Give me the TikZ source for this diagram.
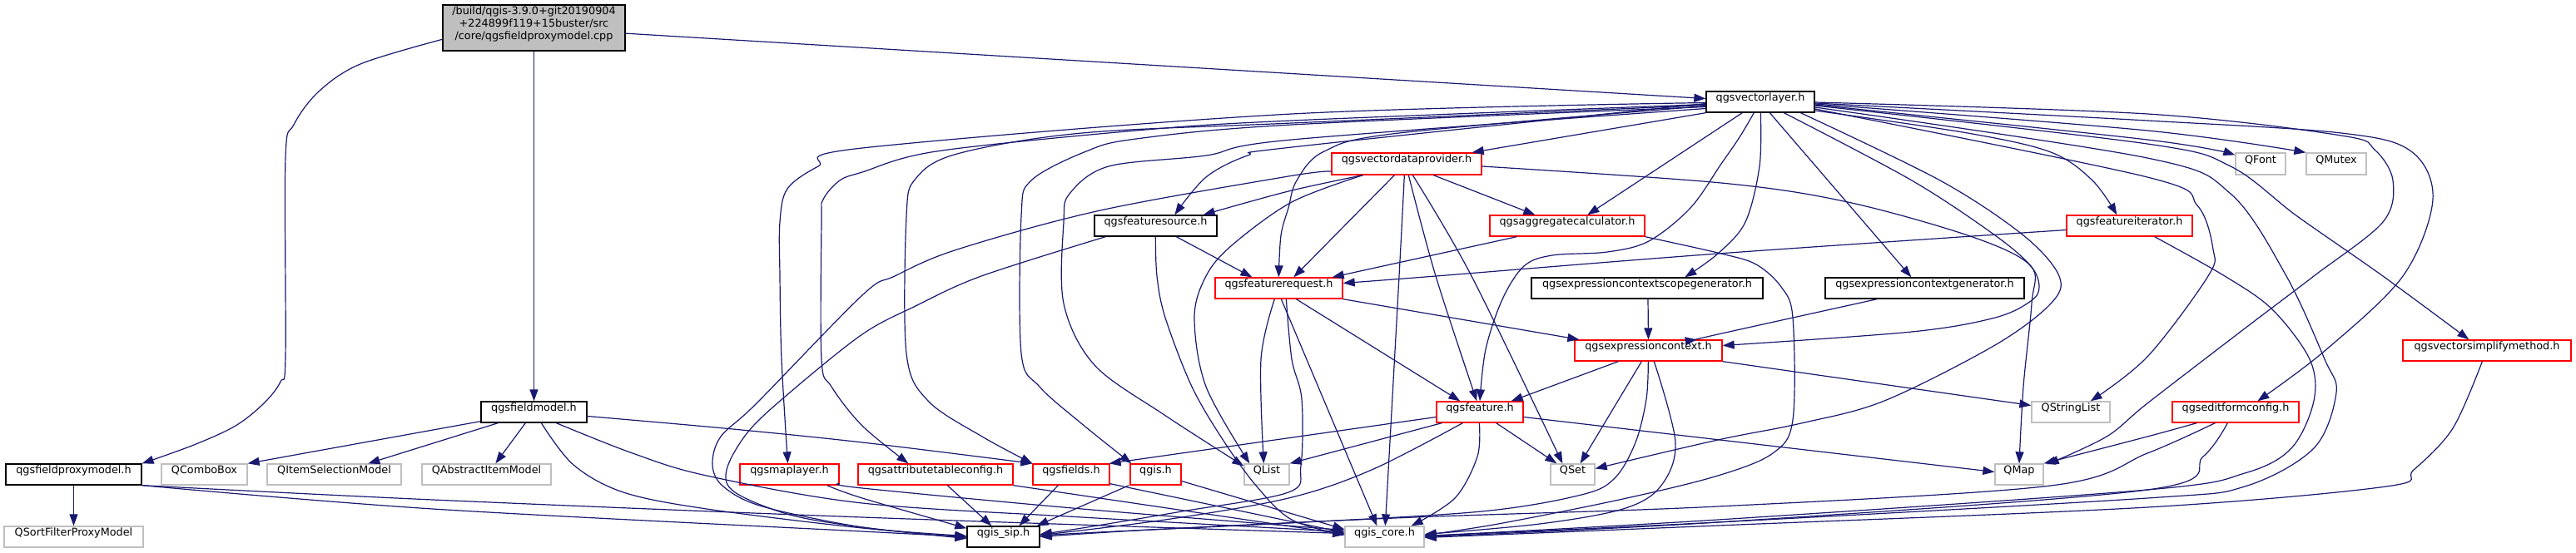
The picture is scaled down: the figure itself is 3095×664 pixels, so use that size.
\documentclass[tikz,border=0pt]{standalone}
\usepackage{fontspec}
\setmainfont{DejaVu Sans}
\usetikzlibrary{fit,calc,arrows.meta}
\definecolor{edgec}{HTML}{191970}
\definecolor{boxred}{HTML}{FF0000}
\definecolor{boxgrey}{HTML}{BFBFBF}
\begin{document}
\begin{tikzpicture}[x=0.75pt,y=-0.75pt,
  nd/.style={draw, line width=1pt, inner sep=0pt, font=\fontsize{9.6}{11.25}\selectfont, text=black},
  kbox/.style={nd, draw=black},
  rbox/.style={nd, draw=boxred},
  gbox/.style={nd, draw=boxgrey},
  e/.style={draw=edgec, line width=0.9pt, -{Triangle[length=10.5pt,width=7.5pt]}},
  sm/.style={smooth, tension=0.55}]
\useasboundingbox (0,0) rectangle (3095,664);
% nodes
\node[kbox, fill=boxgrey, align=left, fit={(532,6)(751,61)}] (root) {/build/qgis-3.9.0+git20190904\\+224899f119+15buster/src\\/core/qgsfieldproxymodel.cpp};
\node[kbox, fit={(2050,110)(2180,135)}] (vl) {qgsvectorlayer.h};
\node[kbox, fit={(7,558)(170,583)}] (fpm) {qgsfieldproxymodel.h};
\node[kbox, fit={(578,483)(705,508)}] (fm) {qgsfieldmodel.h};
\node[gbox, fit={(5,633)(172,658)}] (sfpm) {QSortFilterProxyModel};
\node[gbox, fit={(194,558)(297,583)}] (combo) {QComboBox};
\node[gbox, fit={(321,558)(482,583)}] (ism) {QItemSelectionModel};
\node[gbox, fit={(507,558)(662,583)}] (aim) {QAbstractItemModel};
\node[rbox, fit={(889,558)(1008,583)}] (ml) {qgsmaplayer.h};
\node[rbox, fit={(1031,558)(1217,583)}] (atc) {qgsattributetableconfig.h};
\node[rbox, fit={(1241,558)(1333,583)}] (fields) {qgsfields.h};
\node[rbox, fit={(1358,558)(1419,583)}] (qgis) {qgis.h};
\node[gbox, fit={(1495,558)(1549,583)}] (qlist) {QList};
\node[kbox, fit={(1162,633)(1249,658)}] (sip) {qgis\_sip.h};
\node[gbox, fit={(1616,633)(1711,658)}] (core) {qgis\_core.h};
\node[gbox, fit={(1863,558)(1916,583)}] (qset) {QSet};
\node[gbox, fit={(2397,558)(2455,583)}] (qmap) {QMap};
\node[rbox, fit={(1726,483)(1830,508)}] (feat) {qgsfeature.h};
\node[gbox, fit={(2441,483)(2535,508)}] (qsl) {QStringList};
\node[rbox, fit={(2610,483)(2762,508)}] (efc) {qgseditformconfig.h};
\node[rbox, fit={(1892,409)(2069,434)}] (ec) {qgsexpressioncontext.h};
\node[rbox, fit={(2887,409)(3089,434)}] (vsm) {qgsvectorsimplifymethod.h};
\node[rbox, fit={(1460,334)(1613,359)}] (fr) {qgsfeaturerequest.h};
\node[kbox, fit={(1840,334)(2118,359)}] (ecsg) {qgsexpressioncontextscopegenerator.h};
\node[kbox, fit={(2193,334)(2432,359)}] (ecg) {qgsexpressioncontextgenerator.h};
\node[kbox, fit={(1315,259)(1462,284)}] (fs) {qgsfeaturesource.h};
\node[rbox, fit={(1790,259)(1976,284)}] (ac) {qgsaggregatecalculator.h};
\node[rbox, fit={(2483,259)(2634,284)}] (fi) {qgsfeatureiterator.h};
\node[rbox, fit={(1600,184)(1780,210)}] (vdp) {qgsvectordataprovider.h};
\node[gbox, fit={(2686,184)(2746,210)}] (qfont) {QFont};
\node[gbox, fit={(2771,184)(2843,210)}] (qmutex) {QMutex};

% root edges
\draw[e] plot[sm] coordinates {($(root.north west)+(0,42)$) (433,77) (383,110) (353,150) (343,190) (343,429) (337,459) (317,485) (283,512) (233,535) (fpm.north east)};
\draw[e] (root) -- (fm);
\draw[e] (root) -- (vl);
% qgsfieldproxymodel.h
\draw[e] (fpm) -- (sfpm);
\draw[e] plot[sm] coordinates {(fpm.south east) (520,612) (1036,639) (sip.west)};
\draw[e] plot[sm] coordinates {(fpm.south east) (520,601) (1036,622) ($(core.west)+(0,-4)$)};
% qgsfieldmodel.h
\draw[e] ($(fm.south west)+(0,-2)$) -- (combo.north east);
\draw[e] ($(fm.south west)+(21,0)$) -- ($(ism.north west)+(122,0)$);
\draw[e] ($(fm.south west)+(54,0)$) -- ($(aim.north west)+(89,0)$);
\draw[e] plot[sm] coordinates {($(fm.east)+(0,5)$) (870,515) (1036,532) (fields.north west)};
\draw[e] plot[sm] coordinates {($(fm.south west)+(73,0)$) (689,559) (749,592) (849,612) (1036,635) ($(sip.west)+(0,-1)$)};
\draw[e] plot[sm] coordinates {($(fm.south west)+(91,0)$) (760,545) (849,572) (1036,605) (1300,622) ($(core.west)+(0,-6)$)};
% small headers to qgis_sip / qgis_core
\draw[e] plot[sm] coordinates {($(ml.south east)+(-15,0)$) (1036,599) ($(sip.north west)+(0,3)$)};
\draw[e] plot[sm] coordinates {($(ml.east)+(0,11)$) (1036,587) (1300,612) ($(core.west)+(0,-8)$)};
\draw[e] ($(atc.south west)+(108,0)$) -- ($(sip.north west)+(30,0)$);
\draw[e] (atc.south east) -- ($(core.west)+(0,-3)$);
\draw[e] ($(fields.south west)+(31,0)$) -- ($(sip.north west)+(63,0)$);
\draw[e] ($(fields.south east)+(0,-2)$) -- ($(core.west)+(0,-5)$);
\draw[e] ($(qgis.south west)+(-1,0)$) -- ($(sip.north east)+(-4,0)$);
\draw[e] ($(qgis.east)+(0,8)$) -- ($(core.west)+(0,-9)$);
% qgsvectordataprovider.h
\draw[e] plot[sm] coordinates {($(vdp.south west)+(38,0)$) (1548,230) ($(fs.north east)+(-17,0)$)};
\draw[e] ($(vdp.south west)+(76,0)$) -- ($(fr.north west)+(95,0)$);
\draw[e] plot[sm] coordinates {($(vdp.south west)+(88,0)$) (1681,332) ($(core.north west)+(49,0)$)};
\draw[e] plot[sm] coordinates {($(vdp.south west)+(93,0)$) (1725,332) ($(feat.north west)+(49,0)$)};
\draw[e] plot[sm] coordinates {($(vdp.south west)+(98,0)$) (1768,332) ($(qset.north west)+(15,0)$)};
\draw[e] ($(vdp.south west)+(123,0)$) -- ($(ac.north west)+(55,0)$);
\draw[e] plot[sm] coordinates {($(vdp.east)+(0,3)$) (2068,220) (2220,243) (2370,285) (2440,320) (2441,365) (2431,465) (qmap.north)};
\draw[e] plot[sm] coordinates {($(vdp.south west)+(38,0)$) (1552,243) (1480,295) (1449,332) (1435,382) (1449,465) ($(qlist.north west)+(7,0)$)};
\draw[e] plot[sm] coordinates {($(vdp.west)+(0,9)$) (1548,212) (1322,253) (1150,300) (1075,332) (1036,355) (909,485) (866,525) (856,559) (869,585) (916,609) (1036,634) ($(sip.west)+(0,1)$)};
% qgsfeaturesource.h
\draw[e] ($(fs.south west)+(99,0)$) -- ($(fr.north west)+(45,0)$);
\draw[e] plot[sm] coordinates {($(fs.south west)+(74,0)$) (1390,332) (1400,382) (1432,465) (1470,530) (1510,585) (1552,625) ($(core.west)+(0,-2)$)};
\draw[e] plot[sm] coordinates {($(fs.south west)+(14,0)$) (1179,332) (1100,368) (1036,402) (949,472) (899,519) (873,565) (883,592) (949,619) (1036,634) ($(sip.west)+(0,2)$)};
% qgsaggregatecalculator.h
\draw[e] ($(ac.south west)+(33,0)$) -- ($(fr.north east)+(-13,0)$);
\draw[e] plot[sm] coordinates {(ac.south east) (2068,305) (2110,318) (2140,345) (2154,382) (2154,505) (2130,545) (2064,572) (1950,600) (1800,630) ($(core.east)+(0,-2)$)};
% qgsfeatureiterator.h
\draw[e] plot[sm] coordinates {($(fi.west)+(0,5)$) (2064,305) (1725,332) ($(fr.east)+(0,-6)$)};
\draw[e] plot[sm] coordinates {($(fi.south east)+(-46,0)$) (2673,332) (2730,372) (2775,432) (2780,482) (2753,539) (2697,569) (2580,589) (2064,625) ($(core.east)+(0,-1)$)};
% qgsfeaturerequest.h
\draw[e] (fr.south east) -- ($(ec.north west)+(6,0)$);
\draw[e] ($(fr.south west)+(98,0)$) -- ($(feat.north west)+(29,0)$);
\draw[e] plot[sm] coordinates {($(fr.south west)+(72,0)$) (1515,432) ($(qlist.north west)+(24,0)$)};
\draw[e] ($(fr.south west)+(80,0)$) -- ($(core.north west)+(39,0)$);
\draw[e] plot[sm] coordinates {($(fr.south west)+(86,0)$) (1552,432) (1564,480) (1563,560) (1548,592) (1420,615) (1300,635) ($(sip.east)+(0,-3)$)};
% generators
\draw[e] ($(ecsg.south)+(1,0)$) -- ($(ec.north)+(0,0)$);
\draw[e] plot[sm] coordinates {($(ecg.south west)+(63,0)$) (2064,402) ($(ec.north east)+(-31,0)$)};
% qgsexpressioncontext.h
\draw[e] ($(ec.south west)+(53,0)$) -- ($(feat.north east)+(-15,0)$);
\draw[e] ($(ec.south west)+(81,0)$) -- ($(qset.north east)+(-18,0)$);
\draw[e] plot[sm] coordinates {($(ec.south west)+(89,0)$) (1978,480) (1965,532) (1940,575) (1900,595) (1780,615) (1548,629) (1300,641) ($(sip.east)+(0,-1)$)};
\draw[e] plot[sm] coordinates {($(ec.south west)+(96,0)$) (2013,532) (1995,585) (1950,612) (1850,630) ($(core.east)+(0,-3)$)};
\draw[e] (ec.south east) -- ($(qsl.west)+(0,-8)$);
% qgsfeature.h
\draw[e] ($(feat.west)+(0,6)$) -- ($(fields.north east)+(-1,0)$);
\draw[e] ($(feat.south west)+(7,0)$) -- (qlist.north east);
\draw[e] plot[sm] coordinates {($(feat.south west)+(32,0)$) (1648,565) (1548,599) (1400,625) ($(sip.east)+(0,-2)$)};
\draw[e] plot[sm] coordinates {($(feat.south west)+(52,0)$) (1775,549) (1748,599) ($(core.north east)+(-16,0)$)};
\draw[e] ($(feat.south east)+(-33,0)$) -- ($(qset.north west)+(8,0)$);
\draw[e] ($(feat.east)+(0,6)$) -- ($(qmap.west)+(0,-3)$);
% qgseditformconfig.h
\draw[e] plot[sm] coordinates {($(efc.south west)+(30,0)$) (2580,525) (qmap.north east)};
\draw[e] plot[sm] coordinates {($(efc.south west)+(52,0)$) (2580,545) (2464,584) (2064,609) (1700,622) (1400,636) ($(sip.east)+(0,0)$)};
\draw[e] plot[sm] coordinates {($(efc.south west)+(67,0)$) (2647,549) (2580,589) (2064,628) ($(core.east)+(0,0)$)};
% qgsvectorsimplifymethod.h
\draw[e] plot[sm] coordinates {($(vsm.south west)+(96,0)$) (2947,515) (2900,565) (2867,585) (2580,610) (2064,632) ($(core.east)+(0,1)$)};
% qgsvectorlayer.h
\draw[e] (vl.south west) -- ($(vdp.north east)+(-12,0)$);
\draw[e] plot[sm] coordinates {($(vl.west)+(0,2)$) (1552,177) (1499,187) (1449,213) ($(fs.north west)+(97,0)$)};
\draw[e] plot[sm] coordinates {($(vl.west)+(0,5)$) (1681,160) (1591,182) (1558,217) (1548,250) (1539,283) ($(fr.north west)+(77,0)$)};
\draw[e] plot[sm] coordinates {($(vl.west)+(0,1)$) (1552,137) (1036,178) (983,200) (946,227) (937,267) (937,332) (939,432) ($(ml.north)+(-2,0)$)};
\draw[e] plot[sm] coordinates {($(vl.west)+(0,3)$) (1552,145) (1365,157) (1125,182) (1036,207) (1009,217) (989,240) (987,267) (987,432) (999,465) (1036,512) ($(atc.north west)+(61,0)$)};
\draw[e] plot[sm] coordinates {($(vl.west)+(0,4)$) (1552,148) (1300,160) (1150,185) (1100,215) (1089,260) (1089,425) (1115,482) (1180,525) (fields.north west)};
\draw[e] plot[sm] coordinates {($(vl.west)+(0,6)$) (1552,150) (1365,167) (1305,182) (1239,217) (1227,260) (1227,425) (1249,465) (1299,509) ($(qgis.north west)+(2,0)$)};
\draw[e] plot[sm] coordinates {($(vl.west)+(0,8)$) (1552,168) (1449,187) (1332,200) (1285,233) (1278,267) (1278,365) (1315,439) (1399,499) ($(qlist.north west)+(0,3)$)};
\draw[e] ($(vl.south west)+(44,0)$) -- ($(ac.north west)+(118,0)$);
\draw[e] plot[sm] coordinates {($(vl.south west)+(58,0)$) (2090,165) (2068,197) (2031,250) (1981,290) (1931,303) (1865,307) (1831,320) (1805,360) (1785,420) (feat.north)};
\draw[e] plot[sm] coordinates {($(vl.south west)+(66,0)$) (2114,200) (2097,267) (2064,305) ($(ecsg.north west)+(185,0)$)};
\draw[e] ($(vl.south west)+(77,0)$) -- ($(ecg.north west)+(104,0)$);
\draw[e] plot[sm] coordinates {($(vl.south west)+(94,0)$) (2297,217) (2397,283) (2440,320) (2450,345) (2440,362) (2397,382) (2297,399) ($(ec.east)+(0,-6)$)};
\draw[e] plot[sm] coordinates {($(vl.south west)+(114,0)$) (2331,217) (2431,283) (2474,332) (2464,365) (2397,415) (2264,482) (2164,509) (2064,529) ($(qset.east)+(0,-7)$)};
\draw[e] plot[sm] coordinates {($(vl.east)+(0,10.5)$) (2364,160) (2464,183) (2514,217) ($(fi.north west)+(61,0)$)};
\draw[e] plot[sm] coordinates {($(vl.east)+(0,3.5)$) (2580,168) ($(qfont.north west)+(0,3)$)};
\draw[e] plot[sm] coordinates {($(vl.east)+(0,2.5)$) (2580,157) (qmutex.north west)};
\draw[e] plot[sm] coordinates {($(vl.east)+(0,4.5)$) (2580,173) (2680,200) (2760,260) (2863,332) ($(vsm.north west)+(80,0)$)};
\draw[e] plot[sm] coordinates {($(vl.east)+(0,1.5)$) (2580,145) (2813,160) (2897,182) (2923,240) (2887,332) (2793,422) ($(efc.north west)+(103,0)$)};
\draw[e] plot[sm] coordinates {($(vl.east)+(0,0.5)$) (2580,137) (2813,163) (2853,180) (2875,217) (2863,267) (2780,332) (2697,395) (2580,485) (2531,525) ($(qmap.north east)+(4,1)$)};
\draw[e] plot[sm] coordinates {($(vl.east)+(0,8.5)$) (2580,213) (2640,247) (2659,300) (2653,332) (2580,429) ($(qsl.north east)+(-24,0)$)};
\draw[e] plot[sm] coordinates {($(vl.east)+(0,6.5)$) (2580,190) (2680,233) (2747,332) (2793,432) (2807,472) (2780,539) (2697,585) (2580,599) (2064,628) ($(core.east)+(0,-1)$)};
\end{tikzpicture}
\end{document}
